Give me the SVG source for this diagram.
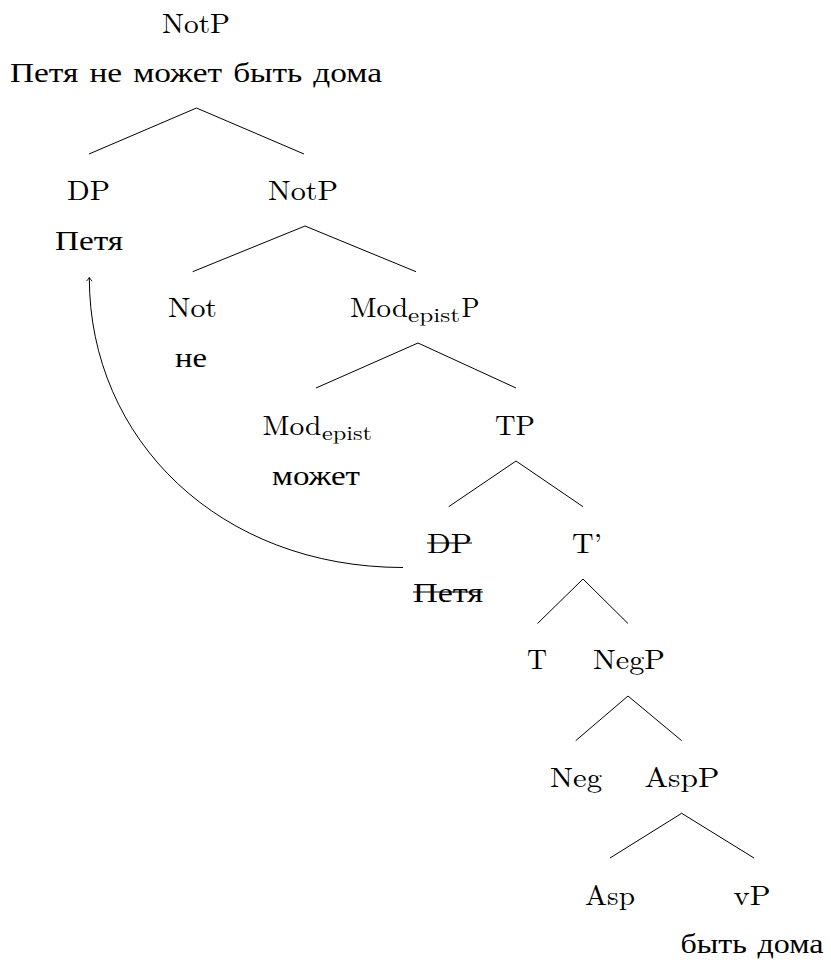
<svg xmlns="http://www.w3.org/2000/svg" width="831" height="962" viewBox="0 0 831 962">
  <style>
    text { font-family: Latin Modern Roman, Liberation Serif, serif; font-size: 28px; fill: #000; text-anchor: middle; }
    .sub { font-size: 19.5px; }
    .cyr { font-size: 27px; }
    .edge { stroke: #000; stroke-width: 1; fill: none; }
    .strike { stroke: #000; stroke-width: 1.1; }
  </style>
  <defs>
    <marker id="tip" markerUnits="userSpaceOnUse" markerWidth="10" markerHeight="10" refX="0" refY="0" viewBox="-6 -5 8 10" orient="auto">
      <path d="M-3.6,-2.8 Q-1.2,-0.6 0,0 Q-1.2,0.6 -3.6,2.8" fill="none" stroke="#000" stroke-width="0.9"/>
    </marker>
  </defs>

  <!-- tree edges and movement arrow -->
  <g id="connectors">
    <path class="edge" d="M89,154 L196.5,108 L304,154"/>
    <path class="edge" d="M192.7,271.7 L305,226 L416,271.7"/>
    <path class="edge" d="M316,388 L418,343 L516,388"/>
    <path class="edge" d="M448.7,506.7 L516,461 L583,506.7"/>
    <path class="edge" d="M537.5,623.5 L583,579 L628,623.5"/>
    <path class="edge" d="M575.7,740.7 L628,696 L681.7,740.7"/>
    <path class="edge" d="M610,858 L681.7,813.3 L754,858"/>
    <path id="movement" class="edge" d="M403,567.5 C220,567.5 89.3,440 89.3,277.5" marker-end="url(#tip)"/>
  </g>

  <g id="n-root">
    <text x="196" y="33" textLength="68" lengthAdjust="spacingAndGlyphs">NotP</text>
    <text class="cyr" x="196" y="82" textLength="372" lengthAdjust="spacingAndGlyphs">Петя не может быть дома</text>
  </g>
  <g id="n-dp">
    <text x="88.5" y="200" textLength="43" lengthAdjust="spacingAndGlyphs">DP</text>
    <text class="cyr" x="89" y="250" textLength="68" lengthAdjust="spacingAndGlyphs">Петя</text>
  </g>
  <g id="n-notp">
    <text x="303" y="200" textLength="70" lengthAdjust="spacingAndGlyphs">NotP</text>
  </g>
  <g id="n-not">
    <text x="192.5" y="317" textLength="49" lengthAdjust="spacingAndGlyphs">Not</text>
    <text class="cyr" x="191" y="367" textLength="32" lengthAdjust="spacingAndGlyphs">не</text>
  </g>
  <g id="n-modp">
    <text x="379" y="317" textLength="58" lengthAdjust="spacingAndGlyphs">Mod</text>
    <text class="sub" x="434" y="322" textLength="52" lengthAdjust="spacingAndGlyphs">epist</text>
    <text x="470.5" y="317" textLength="18" lengthAdjust="spacingAndGlyphs">P</text>
  </g>
  <g id="n-mod">
    <text x="292" y="435" textLength="59" lengthAdjust="spacingAndGlyphs">Mod</text>
    <text class="sub" x="347" y="440" textLength="50" lengthAdjust="spacingAndGlyphs">epist</text>
    <text class="cyr" x="316" y="485" textLength="88" lengthAdjust="spacingAndGlyphs">может</text>
  </g>
  <g id="n-tp">
    <text x="515" y="435" textLength="40" lengthAdjust="spacingAndGlyphs">TP</text>
  </g>
  <g id="n-dp-trace">
    <text x="449.5" y="553" textLength="45" lengthAdjust="spacingAndGlyphs">DP</text>
    <line class="strike" x1="427" y1="543" x2="472" y2="543"/>
    <text class="cyr" x="448" y="602" textLength="70" lengthAdjust="spacingAndGlyphs">Петя</text>
    <line class="strike" x1="413" y1="592" x2="483" y2="592"/>
  </g>
  <g id="n-tbar">
    <text x="587" y="553" textLength="30" lengthAdjust="spacingAndGlyphs">T’</text>
  </g>
  <g id="n-t">
    <text x="537" y="669" textLength="20" lengthAdjust="spacingAndGlyphs">T</text>
  </g>
  <g id="n-negp">
    <text x="629" y="669" textLength="72" lengthAdjust="spacingAndGlyphs">NegP</text>
  </g>
  <g id="n-neg">
    <text x="576" y="787" textLength="52" lengthAdjust="spacingAndGlyphs">Neg</text>
  </g>
  <g id="n-aspp">
    <text x="682" y="787" textLength="75" lengthAdjust="spacingAndGlyphs">AspP</text>
  </g>
  <g id="n-asp">
    <text x="610" y="905" textLength="50" lengthAdjust="spacingAndGlyphs">Asp</text>
  </g>
  <g id="n-vp">
    <text x="752" y="905" textLength="37" lengthAdjust="spacingAndGlyphs">vP</text>
    <text class="cyr" x="752" y="953" textLength="143" lengthAdjust="spacingAndGlyphs">быть дома</text>
  </g>
</svg>
